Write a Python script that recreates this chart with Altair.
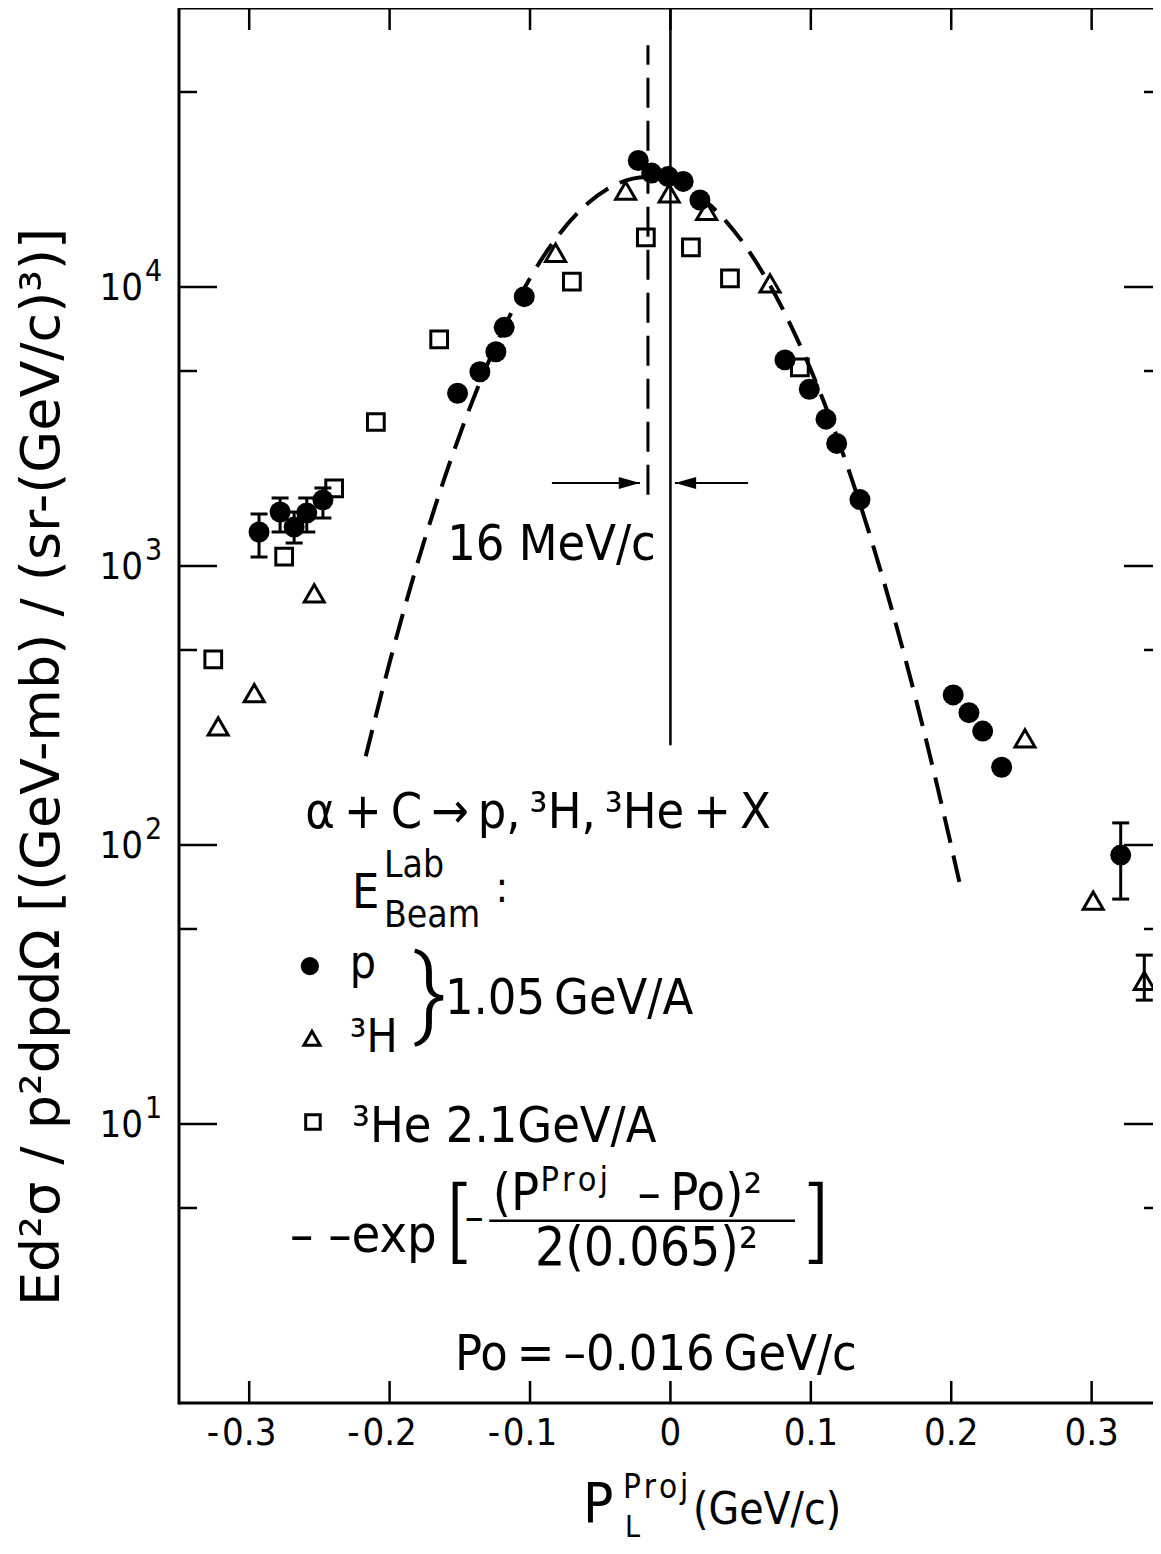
import altair as alt
import pandas as pd

# ---------------- values ----------------
# p (filled circles), 1.05 GeV/A
p_x = [-0.293, -0.278, -0.268, -0.259, -0.2475, -0.1516, -0.1357, -0.1243, -0.1184, -0.1041,
       -0.0229, -0.0134, -0.0016, 0.0091, 0.021, 0.0816, 0.0989, 0.1108, 0.1184, 0.135,
       0.2014, 0.2126, 0.2224, 0.2359, 0.3207]
p_y = [1324, 1561, 1380, 1549, 1724, 4160, 4970, 5860, 7170, 9230,
       28400, 25600, 24900, 23900, 20500, 5480, 4300, 3360, 2750, 1730,
       345, 298, 256, 190, 92]
p_err_x = [-0.293, -0.278, -0.268, -0.259, -0.2475, 0.3207]
p_err_lo = [1077, 1324, 1209, 1324, 1486, 64]
p_err_hi = [1536, 1753, 1561, 1753, 1904, 120]

# 3H (open triangles), 1.05 GeV/A
t_x = [-0.3221, -0.2964, -0.2537, -0.0818, -0.0319, -0.0009, 0.0258, 0.0709, 0.2525, 0.3011, 0.3375]
t_y = [266, 350, 798, 13270, 22140, 21670, 18730, 10310, 241, 63.2, 32.6]
t_err_x = [0.3375]
t_err_lo = [27.8]
t_err_hi = [40.3]

# 3He (open squares), 2.1 GeV/A
he_x = [-0.3256, -0.2751, -0.2395, -0.2098, -0.1647, -0.0702, -0.0175, 0.0146, 0.0424, 0.0922]
he_y = [463, 1080, 1899, 3282, 6494, 10450, 15070, 13870, 10740, 5152]

# dashed gaussian curve
fit_x = [-0.217, -0.2, -0.18, -0.16, -0.14, -0.12, -0.1, -0.08, -0.06, -0.04, -0.016,
         0.01, 0.03, 0.05, 0.07, 0.09, 0.11, 0.13, 0.15, 0.17, 0.19, 0.206]
fit_y = [208, 451, 1030, 2130, 4020, 6900, 10760, 15270, 19720, 23170, 24800,
         22890, 19310, 14810, 10330, 6560, 3790, 1990, 951, 413, 163, 73]

# vertical reference lines: P=0 (solid) and Po=-0.016 (dashed)
solid_x = [0.0]
solid_lo = [228]
solid_hi = [100000]
dash_x = [-0.016]
dash_lo = [1800]
dash_hi = [73600]

# width arrows ("16 MeV/c")
arrow_y = [1984, 1984]
arrow_from = [-0.0844, 0.0552]
arrow_to = [-0.0217, 0.0032]

# axis ticks and their labels
x_ticks = [-0.3, -0.2, -0.1, 0.0, 0.1, 0.2, 0.3]
x_tick_text = ["0.3", "0.2", "0.1", "0", "0.1", "0.2", "0.3"]
x_neg_ticks = [-0.3, -0.2, -0.1]
y_major = [10, 100, 1000, 10000]
y_exp_text = ["1", "2", "3", "4"]
y_minor = [5, 50, 500, 5000, 50000]

# ---------------- chart ----------------
W, H = 974, 1395          # plot area; the right frame edge of the original lies just past the page
CUT = 9                   # how far the original frame continues beyond the visible page
FONT = "DejaVu Sans Condensed, Roboto Condensed, Liberation Sans Narrow, DejaVu Sans"
WIDE = "DejaVu Sans"
THIN = "Roboto"
xs = alt.Scale(domain=[-0.35, 0.3437], nice=False, zero=False)
ys = alt.Scale(type="log", domain=[1, 100000], nice=False)


def X(f="x"):
    return alt.X(f"{f}:Q", scale=xs, axis=None)


def Y(f="y"):
    return alt.Y(f"{f}:Q", scale=ys, axis=None)


one = pd.DataFrame({"k": [0]})
p_df = pd.DataFrame({"x": p_x, "y": p_y})
t_df = pd.DataFrame({"x": t_x, "y": t_y})
he_df = pd.DataFrame({"x": he_x, "y": he_y})
fit_df = pd.DataFrame({"x": fit_x, "y": fit_y})
perr_df = pd.DataFrame({"x": p_err_x, "lo": p_err_lo, "hi": p_err_hi})
terr_df = pd.DataFrame({"x": t_err_x, "lo": t_err_lo, "hi": t_err_hi})

layers = []

# frame (left, top, bottom; the right side is off the page)
fr = alt.Chart(one).mark_rule(color="black", strokeWidth=3)
layers.append(fr.encode(x=alt.value(0), y=alt.value(-1.5), y2=alt.value(H + 1.5)))
layers.append(fr.encode(x=alt.value(0), x2=alt.value(W + CUT), y=alt.value(0)))
layers.append(fr.encode(x=alt.value(0), x2=alt.value(W + CUT), y=alt.value(H)))

# inward ticks
xt = alt.Chart(pd.DataFrame({"v": x_ticks, "lab": x_tick_text}))
layers.append(xt.mark_rule(color="black", strokeWidth=2.5).encode(x=X("v"), y=alt.value(0), y2=alt.value(22)))
layers.append(xt.mark_rule(color="black", strokeWidth=2.5).encode(x=X("v"), y=alt.value(H), y2=alt.value(H - 22)))
ymj = alt.Chart(pd.DataFrame({"v": y_major, "e": y_exp_text}))
ymn = alt.Chart(pd.DataFrame({"v": y_minor}))
for src, ln in ((ymj, 38), (ymn, 18)):
    layers.append(src.mark_rule(color="black", strokeWidth=2.5).encode(y=Y("v"), x=alt.value(0), x2=alt.value(ln)))
    layers.append(src.mark_rule(color="black", strokeWidth=2.5).encode(y=Y("v"), x=alt.value(W + CUT), x2=alt.value(W + CUT - ln)))

# tick labels
layers.append(xt.mark_text(font=FONT, fontSize=38, color="black", align="center", baseline="alphabetic")
              .encode(x=X("v"), y=alt.value(H + 42), text="lab:N"))
layers.append(alt.Chart(pd.DataFrame({"v": x_neg_ticks})).mark_text(
    text="-", font=FONT, fontSize=38, color="black", align="right", baseline="alphabetic", dx=-30)
    .encode(x=X("v"), y=alt.value(H + 42)))
layers.append(ymj.mark_text(text="10", font=FONT, fontSize=38, color="black", align="right",
                            baseline="middle", dy=2).encode(y=Y("v"), x=alt.value(-36)))
layers.append(ymj.mark_text(font=FONT, fontSize=30, color="black", align="left",
                            baseline="middle", dy=-15).encode(y=Y("v"), x=alt.value(-34), text="e:N"))

# gaussian curve
layers.append(alt.Chart(fit_df).mark_line(color="black", strokeWidth=4, strokeDash=[27, 13],
                                          interpolate="monotone").encode(x=X(), y=Y()))

# vertical lines
layers.append(alt.Chart(pd.DataFrame({"x": solid_x, "lo": solid_lo, "hi": solid_hi}))
              .mark_rule(color="black", strokeWidth=2.5).encode(x=X(), y=Y("lo"), y2="hi:Q"))
layers.append(alt.Chart(pd.DataFrame({"x": dash_x, "lo": dash_lo, "hi": dash_hi}))
              .mark_rule(color="black", strokeWidth=3, strokeDash=[30, 13]).encode(x=X(), y=Y("lo"), y2="hi:Q"))

# arrows
arr = alt.Chart(pd.DataFrame({"a": arrow_from, "b": arrow_to, "y": arrow_y}))
layers.append(arr.mark_rule(color="black", strokeWidth=2.2).encode(x=X("a"), x2="b:Q", y=Y()))
layers.append(alt.Chart(pd.DataFrame({"b": arrow_to[:1], "y": arrow_y[:1]}))
              .mark_point(shape="M0,0L-1,-0.28L-1,0.28Z", filled=True, color="black", opacity=1, size=1800)
              .encode(x=X("b"), y=Y()))
layers.append(alt.Chart(pd.DataFrame({"b": arrow_to[1:], "y": arrow_y[1:]}))
              .mark_point(shape="M0,0L1,-0.28L1,0.28Z", filled=True, color="black", opacity=1, size=1800)
              .encode(x=X("b"), y=Y()))

# error bars
for df in (perr_df, terr_df):
    c = alt.Chart(df)
    layers.append(c.mark_rule(color="black", strokeWidth=3).encode(x=X(), y=Y("lo"), y2="hi:Q"))
    layers.append(c.mark_tick(color="black", orient="horizontal", size=17, thickness=3, opacity=1).encode(x=X(), y=Y("lo")))
    layers.append(c.mark_tick(color="black", orient="horizontal", size=17, thickness=3, opacity=1).encode(x=X(), y=Y("hi")))

# data points
layers.append(alt.Chart(he_df).mark_point(shape="square", filled=False, color="black", strokeWidth=3,
                                          size=280, opacity=1).encode(x=X(), y=Y()))
layers.append(alt.Chart(t_df).mark_point(shape="triangle-up", filled=False, color="black", strokeWidth=3,
                                         size=400, opacity=1).encode(x=X(), y=Y()))
layers.append(alt.Chart(p_df).mark_circle(color="black", size=440, opacity=1).encode(x=X(), y=Y()))

# legend symbols
layers.append(alt.Chart(pd.DataFrame({"x": [-0.2568], "y": [36.8]})).mark_circle(color="black", size=330, opacity=1).encode(x=X(), y=Y()))
layers.append(alt.Chart(pd.DataFrame({"x": [-0.2553], "y": [20.3]})).mark_point(shape="triangle-up", filled=False, color="black", strokeWidth=3, size=260, opacity=1).encode(x=X(), y=Y()))
layers.append(alt.Chart(pd.DataFrame({"x": [-0.2546], "y": [10.17]})).mark_point(shape="square", filled=False, color="black", strokeWidth=3, size=210, opacity=1).encode(x=X(), y=Y()))


def txt(s, x, y, size, baseline="alphabetic", align="left", weight="normal", font=FONT):
    return alt.Chart(pd.DataFrame({"x": [x], "y": [y]})).mark_text(
        text=s, font=font, fontSize=size, align=align, baseline=baseline, color="black",
        fontWeight=weight).encode(x=X(), y=Y())


TS = "\u2009"   # thin space
HS = "\u200a"   # hair space
PROJ = f"P{HS}r{HS}o{HS}j"
layers += [
    txt("16 MeV/c", -0.159, 1051, 50),
    txt(f"\u03b1{TS}+{TS}C{TS}\u2192{TS}p,{TS}\u00b3H,{TS}\u00b3He{TS}+{TS}X", -0.260, 115, 50),
    txt("E", -0.2268, 59.5, 48),
    txt("Lab", -0.2040, 76.5, 37),
    txt("Beam", -0.2040, 51.0, 37),
    txt(":", -0.1246, 62.5, 42),
    txt("p", -0.2283, 33.4, 46),
    txt("\u00b3H", -0.2283, 18.1, 46),
    txt("}", -0.1830, 28.5, 100, baseline="middle", weight=300, font=THIN),
    txt(f"1.05{TS}GeV/A", -0.1606, 24.8, 50),
    txt("\u00b3He 2.1GeV/A", -0.2268, 8.62, 50),
    txt("\u2013 \u2013exp", -0.271, 3.48, 52),
    txt("[", -0.1600, 4.345, 86, baseline="middle", weight=300, font=THIN),
    txt("\u2013", -0.1465, 4.6, 42, baseline="middle"),
    txt("(P", -0.1265, 4.918, 52),
    txt(PROJ, -0.0925, 5.75, 34),
    txt(f"\u2013{TS}Po)\u00b2", -0.0235, 4.918, 52),
    txt("2(0.065)\u00b2", -0.0965, 3.124, 53),
    txt("]", 0.0985, 4.345, 86, baseline="middle", weight=300, font=THIN),
    txt(f"Po{TS}={TS}\u20130.016{TS}GeV/c", -0.1535, 1.313, 50),
]
# fraction bar
layers.append(alt.Chart(pd.DataFrame({"a": [-0.1290], "b": [0.0887], "y": [4.50]}))
              .mark_rule(color="black", strokeWidth=2.5).encode(x=X("a"), x2="b:Q", y=Y()))


def ptxt(s, px, py, size, baseline="alphabetic", align="left", angle=0, font=FONT):
    return alt.Chart(one).mark_text(text=s, font=font, fontSize=size, align=align, baseline=baseline,
                                    color="black", angle=angle).encode(x=alt.value(px), y=alt.value(py))


# axis titles (placed relative to the plot area)
layers += [
    ptxt("Ed\u00b2\u03c3 / p\u00b2dpd\u03a9 [(GeV-mb) / (sr-(GeV/c)\u00b3)]", -136, 759, 54,
         baseline="middle", align="center", angle=270, font=WIDE),
    ptxt("P", 404, 1514, 56),
    ptxt(PROJ, 444, 1490, 33),
    ptxt("L", 446, 1529, 30),
    ptxt("(GeV/c)", 514, 1516, 44),
]

chart = alt.layer(*layers).properties(
    width=W, height=H,
    padding={"left": 171, "top": 0, "right": 0, "bottom": 143},
    autosize=alt.AutoSizeParams(type="none"),
).configure(background="white").configure_view(stroke=None)

chart.save("out.html", embed_options={"renderer": "svg", "actions": False})
